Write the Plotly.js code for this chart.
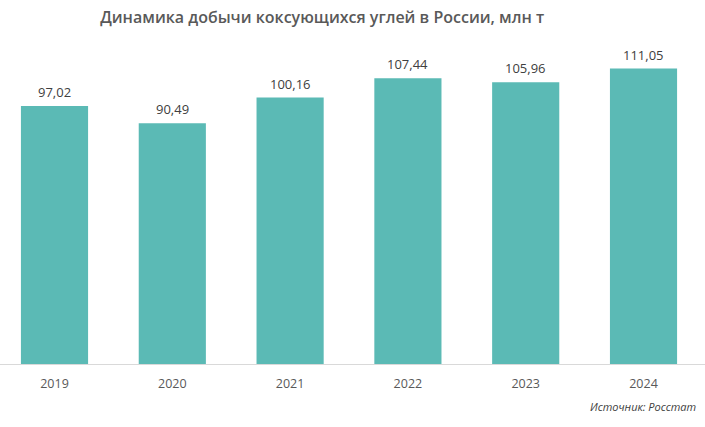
<!DOCTYPE html>
<html>
<head>
<meta charset="utf-8">
<script src="https://cdn.plot.ly/plotly-3.0.1.min.js"></script>
<style>html,body{margin:0;padding:0;background:#fff;}#chart{width:705px;height:427px;}</style>
</head>
<body>
<div id="chart"></div>
<script>
const years = ['2019', '2020', '2021', '2022', '2023', '2024'];
const production = [97.02, 90.49, 100.16, 107.44, 105.96, 111.05];
const titleText = 'Динамика добычи коксующихся углей в России, млн т';
const sourceText = 'Источник: Росстат';

const font = '"Segoe UI", "Open Sans", "Noto Sans", sans-serif';

const trace = {
  type: 'bar',
  x: years,
  y: production,
  width: 0.57,
  marker: {color: '#5BBAB5'},
  hoverinfo: 'none'
};

const valueLabels = years.map((yr, i) => ({
  x: i, y: production[i], xref: 'x', yref: 'y',
  text: production[i].toFixed(2).replace('.', ','),
  showarrow: false, yanchor: 'middle', xanchor: 'center', yshift: 14,
  font: {family: font, size: 13, color: '#404040'}
}));

const layout = {
  width: 705, height: 427,
  margin: {l: 0, r: 0, t: 40, b: 63},
  paper_bgcolor: '#ffffff', plot_bgcolor: '#ffffff',
  showlegend: false,
  title: {text: titleText, x: 0.457, xanchor: 'center', y: 0.96, yanchor: 'middle',
          font: {family: font, size: 16, color: '#595959', weight: 600}},
  xaxis: {type: 'category', range: [-0.4627, 5.522], showline: true, linecolor: '#d9d9d9', linewidth: 1,
          ticks: '', showgrid: false, zeroline: false, ticklabelstandoff: 8,
          tickfont: {family: font, size: 12.5, color: '#595959'}},
  yaxis: {range: [0, 121.8], visible: false, showgrid: false, zeroline: false},
  annotations: valueLabels.concat([{text: '<i>' + sourceText + '</i>', xref: 'paper', yref: 'paper', x: 0.99, y: -0.13,
                 xanchor: 'right', yanchor: 'middle', showarrow: false,
                 font: {family: font, size: 11, color: '#404040'}}])
};

Plotly.newPlot('chart', [trace], layout, {displayModeBar: false, staticPlot: true});
</script>
</body>
</html>
